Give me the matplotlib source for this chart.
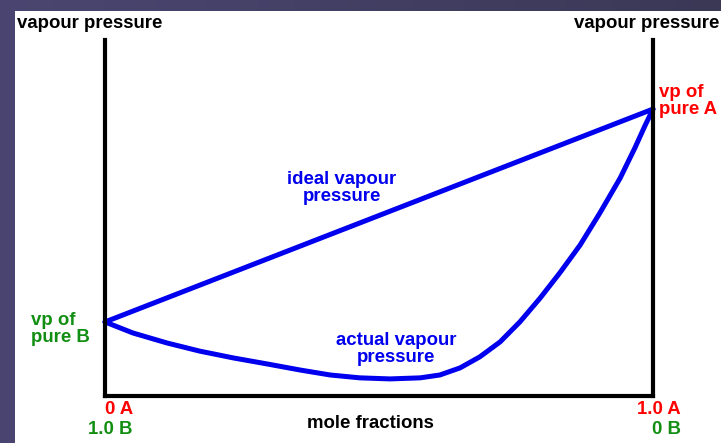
import numpy as np
import matplotlib
matplotlib.use("Agg")
import matplotlib.pyplot as plt
from matplotlib.patches import Rectangle
from matplotlib.colors import LinearSegmentedColormap

# Mole fraction of A and vapour pressure (arbitrary units)
x_ideal = [0.0, 1.0]
p_ideal = [20.8, 80.6]

x_actual = [0.0, 0.051, 0.113, 0.173, 0.234, 0.296, 0.356, 0.411, 0.465,
            0.520, 0.575, 0.611, 0.648, 0.684, 0.721, 0.757, 0.794, 0.830,
            0.867, 0.903, 0.940, 0.967, 0.985, 1.0]
p_actual = [20.8, 17.7, 14.9, 12.6, 10.7, 9.0, 7.3, 5.9, 5.1,
            4.8, 5.1, 5.9, 7.9, 11.0, 15.2, 20.8, 27.5, 34.6,
            42.4, 51.4, 61.2, 69.7, 75.8, 80.6]

W, H = 721, 443
fig = plt.figure(figsize=(W / 100, H / 100), dpi=100)

# dark slide background with a soft gradient, white panel on top
bg = fig.add_axes([0, 0, 1, 1], zorder=-10)
grad = np.linspace(0, 1, 256)[None, :]
cmap = LinearSegmentedColormap.from_list("slide", ["#4b4671", "#3b3856"])
bg.imshow(grad, aspect="auto", cmap=cmap, extent=[0, 1, 0, 1])
bg.add_patch(Rectangle((15 / W, 0), 1, 1 - 11 / H, transform=bg.transAxes,
                       facecolor="white", edgecolor="none"))
bg.set_xlim(0, 1)
bg.set_ylim(0, 1)
bg.axis("off")


def px(x, y):
    return x / W, 1 - y / H


left, right, bottom, top = 105, 653, 396, 40
ax = fig.add_axes([left / W, 1 - bottom / H, (right - left) / W, (bottom - top) / H])
ax.set_facecolor("none")
ax.set_xlim(0, 1)
ax.set_ylim(0, 100)
for s in ["left", "bottom", "right"]:
    ax.spines[s].set_linewidth(3.0)
    ax.spines[s].set_color("black")
ax.spines["top"].set_visible(False)
ax.set_xticks([])
ax.set_yticks([])

blue = "#0000ee"
ax.plot(x_ideal, p_ideal, color=blue, lw=3.6, solid_capstyle="round", clip_on=False)
ax.plot(x_actual, p_actual, color=blue, lw=3.6, solid_joinstyle="round",
        solid_capstyle="round", clip_on=False)

font = "Liberation Sans"
fs = 13.4
red = "#ff0000"
green = "#128f12"

fig.text(*px(17, 24), "vapour pressure", fontsize=fs, fontweight="bold",
         family=font, color="black", ha="left", va="center")
fig.text(*px(719, 24), "vapour pressure", fontsize=fs, fontweight="bold",
         family=font, color="black", ha="right", va="center")

fig.text(*px(342, 188), "ideal vapour\npressure", fontsize=fs, fontweight="bold",
         family=font, color=blue, ha="center", va="center", linespacing=0.95)
fig.text(*px(396, 349), "actual vapour\npressure", fontsize=fs, fontweight="bold",
         family=font, color=blue, ha="center", va="center", linespacing=0.95)

fig.text(*px(659, 101), "vp of\npure A", fontsize=fs, fontweight="bold",
         family=font, color=red, ha="left", va="center", linespacing=0.95)
fig.text(*px(31, 329), "vp of\npure B", fontsize=fs, fontweight="bold",
         family=font, color=green, ha="left", va="center", linespacing=0.95)

fig.text(*px(133, 410), "0 A", fontsize=fs, fontweight="bold",
         family=font, color=red, ha="right", va="center")
fig.text(*px(133, 429), "1.0 B", fontsize=fs, fontweight="bold",
         family=font, color=green, ha="right", va="center")
fig.text(*px(681, 410), "1.0 A", fontsize=fs, fontweight="bold",
         family=font, color=red, ha="right", va="center")
fig.text(*px(681, 429), "0 B", fontsize=fs, fontweight="bold",
         family=font, color=green, ha="right", va="center")

fig.text(*px(370, 424), "mole fractions", fontsize=fs, fontweight="bold",
         family=font, color="black", ha="center", va="center")

fig.savefig("out.png", dpi=100)
